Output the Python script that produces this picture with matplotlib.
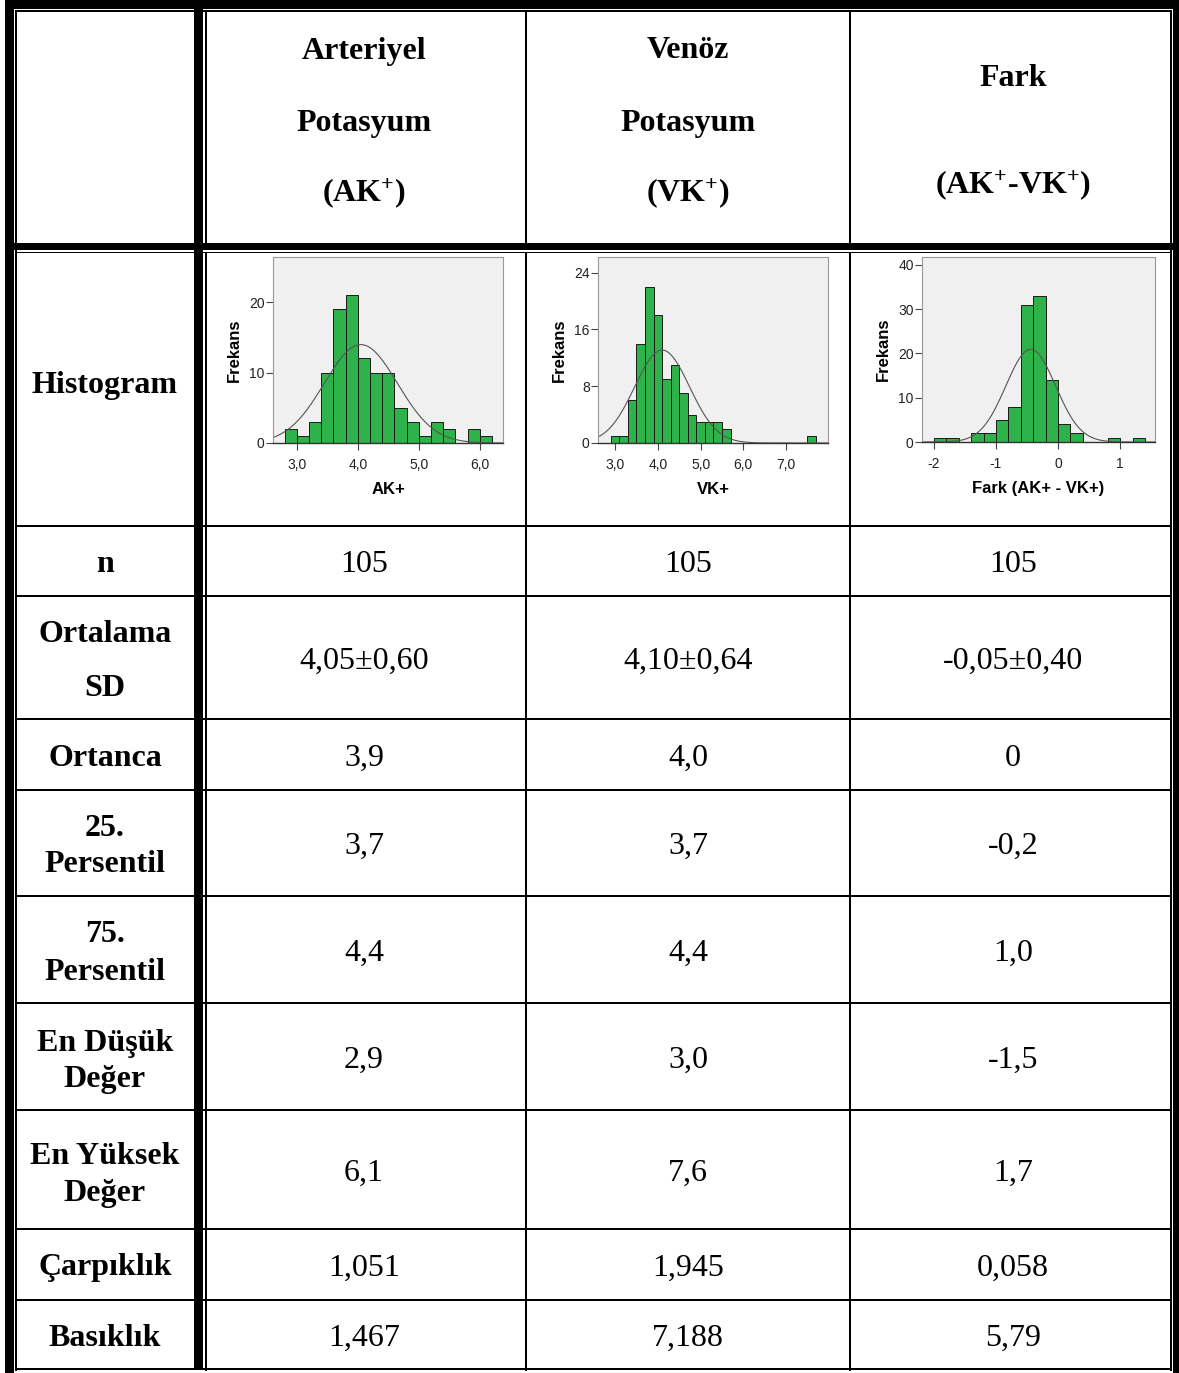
import numpy as np
import matplotlib
matplotlib.use("Agg")
import matplotlib.pyplot as plt
from matplotlib.patches import Rectangle

plt.rcParams['mathtext.fontset'] = 'custom'
plt.rcParams['mathtext.default'] = 'regular'

### Data ###

columns = ['AK+', 'VK+', 'Fark (AK+ - VK+)']
headers = [['Arteriyel', 'Potasyum', '(AK$^{+}$)'],
           ['Venöz', 'Potasyum', '(VK$^{+}$)'],
           ['Fark', '(AK$^{+}$-VK$^{+}$)']]

row_labels = [['n'], ['Ortalama', 'SD'], ['Ortanca'], ['25.', 'Persentil'],
              ['75.', 'Persentil'], ['En Düşük', 'Değer'], ['En Yüksek', 'Değer'],
              ['Çarpıklık'], ['Basıklık']]

ak_values = ['105', '4,05±0,60', '3,9', '3,7', '4,4', '2,9', '6,1', '1,051', '1,467']
vk_values = ['105', '4,10±0,64', '4,0', '3,7', '4,4', '3,0', '7,6', '1,945', '7,188']
fark_values = ['105', '-0,05±0,40', '0', '-0,2', '1,0', '-1,5', '1,7', '0,058', '5,79']

# histogram counts, 0.2 wide bins
ak_start = 2.8
ak_counts = [2, 1, 3, 10, 19, 21, 12, 10, 10, 5, 3, 1, 3, 2, 0, 2, 1]
vk_start = 2.9
vk_counts = [1, 1, 6, 14, 22, 18, 9, 11, 7, 4, 3, 3, 3, 2, 0, 0, 0, 0, 0, 0, 0, 0, 0, 1]
fark_start = -2.0
fark_counts = [1, 1, 0, 2, 2, 5, 8, 31, 33, 14, 4, 2, 0, 0, 1, 0, 1]
bin_width = 0.2

# normal curve parameters for each histogram
curve_mean = [4.05, 4.10, -0.44]
curve_sd = [0.60, 0.64, 0.40]

### Layout (pixels) ###

W, H = 1179, 1373
col_x = [15, 204, 526, 850, 1171]
row_y = [11, 252, 526, 596, 719, 790, 896, 1003, 1110, 1229, 1300, 1369]

fig = plt.figure(figsize=(W / 100, H / 100), dpi=100)
ax = fig.add_axes([0, 0, 1, 1])
ax.set_xlim(0, W)
ax.set_ylim(H, 0)
ax.axis('off')


def band(x0, y0, x1, y1):
    ax.add_patch(Rectangle((x0, y0), x1 - x0, y1 - y0, color='black', lw=0, zorder=5))


# thick outer frame and thin inner lines
band(5, 0, W, 9)
band(5, 0, 13.5, H)
band(1173, 0, W, H)
band(194, 9, 203, 1370)
band(13.5, 243, 1173, 249.5)
band(15, 10.3, 1172, 11.8)
band(15, 10.3, 16.6, 1370.5)
band(1170, 10.3, 1172, 1370.5)
band(205, 251.5, 207, 1370.5)
band(205, 10.3, 207, 243)
band(15, 251.5, 1172, 253)
for y in row_y[2:]:
    band(15, y - 1, 1172, y + 1)
for x in col_x[2:4]:
    band(x - 1, 10.3, x + 1, 243)
    band(x - 1, 251.5, x + 1, 1370.5)

serif = 'Liberation Serif'
fs = 23
dy = 3  # va='center' sits a little high for this font
col_cx = [105, 364, 688, 1013]

# header
header_y = [[48, 120, 190], [48, 120, 190], [75, 182]]
for c, lines in enumerate(headers):
    for txt, y in zip(lines, header_y[c]):
        ax.text(col_cx[c + 1], y + dy, txt, family=serif, weight='bold', fontsize=fs,
                ha='center', va='center', zorder=6)

ax.text(col_cx[0], 382 + dy, 'Histogram', family=serif, weight='bold', fontsize=fs,
        ha='center', va='center', zorder=6)

# row labels and values
value_y = [562, 658, 755, 843, 950, 1057, 1170, 1265, 1335]
label_y = [[562], [632, 685], [755], [826, 862], [932, 969], [1040, 1077],
           [1153, 1190], [1265], [1335]]
for r in range(len(row_labels)):
    for txt, y in zip(row_labels[r], label_y[r]):
        ax.text(col_cx[0], y + dy, txt, family=serif, weight='bold', fontsize=fs,
                ha='center', va='center', zorder=6)
    for c, vals in enumerate([ak_values, vk_values, fark_values]):
        ax.text(col_cx[c + 1], value_y[r] + dy, vals[r], family=serif, fontsize=fs,
                ha='center', va='center', zorder=6)

### Histograms ###

sans = 'Liberation Sans'
hist_boxes = [(273, 257, 503, 443), (598, 257, 828, 443), (922, 257, 1155, 442)]
image_boxes = [(218, 255, 510, 508), (542, 255, 835, 508), (866, 255, 1166, 508)]
xlims = [(2.61, 6.38), (2.6, 7.98), (-2.19, 1.56)]
ylims = [26.4, 26.2, 41.8]
xticks = [[3, 4, 5, 6], [3, 4, 5, 6, 7], [-2, -1, 0, 1]]
xticklabels = [['3,0', '4,0', '5,0', '6,0'], ['3,0', '4,0', '5,0', '6,0', '7,0'],
               ['-2', '-1', '0', '1']]
yticks = [[0, 10, 20], [0, 8, 16, 24], [0, 10, 20, 30, 40]]
all_counts = [ak_counts, vk_counts, fark_counts]
starts = [ak_start, vk_start, fark_start]

for i in range(3):
    bx0, by0, bx1, by1 = image_boxes[i]
    ax.add_patch(Rectangle((bx0, by0), bx1 - bx0, by1 - by0, color='white', lw=0, zorder=2))

    x0, y0, x1, y1 = hist_boxes[i]
    h = fig.add_axes([x0 / W, 1 - y1 / H, (x1 - x0) / W, (y1 - y0) / H])
    h.set_facecolor('#f0f0f0')
    counts = np.array(all_counts[i])
    edges = starts[i] + bin_width * np.arange(len(counts))
    h.bar(edges, counts, width=bin_width, align='edge', color='#2eb34a',
          edgecolor='#1a1a1a', linewidth=0.7)
    n = counts.sum()
    xs = np.linspace(xlims[i][0], xlims[i][1], 400)
    ys = n * bin_width / (curve_sd[i] * np.sqrt(2 * np.pi)) * \
        np.exp(-0.5 * ((xs - curve_mean[i]) / curve_sd[i]) ** 2)
    h.plot(xs, ys, color='#555555', lw=0.8)
    h.set_xlim(*xlims[i])
    h.set_ylim(0, ylims[i])
    h.set_xticks(xticks[i])
    h.set_xticklabels(xticklabels[i])
    h.set_yticks(yticks[i])
    h.tick_params(labelsize=10, length=5, width=0.8, color='#444444',
                  labelcolor='#222222')
    h.tick_params(axis='x', pad=6)
    h.tick_params(axis='y', pad=1)
    for s in ['top', 'right', 'left']:
        h.spines[s].set_color('#999999')
        h.spines[s].set_linewidth(0.8)
    h.spines['bottom'].set_color('#333333')
    h.spines['bottom'].set_linewidth(1.0)
    for lab in h.get_xticklabels() + h.get_yticklabels():
        lab.set_family(sans)
    h.set_ylabel('Frekans', family=sans, weight='bold', fontsize=12, labelpad=5)
    h.set_xlabel(columns[i], family=sans, weight='bold', fontsize=12, labelpad=7)

fig.savefig('out.png', dpi=100, facecolor='white')
